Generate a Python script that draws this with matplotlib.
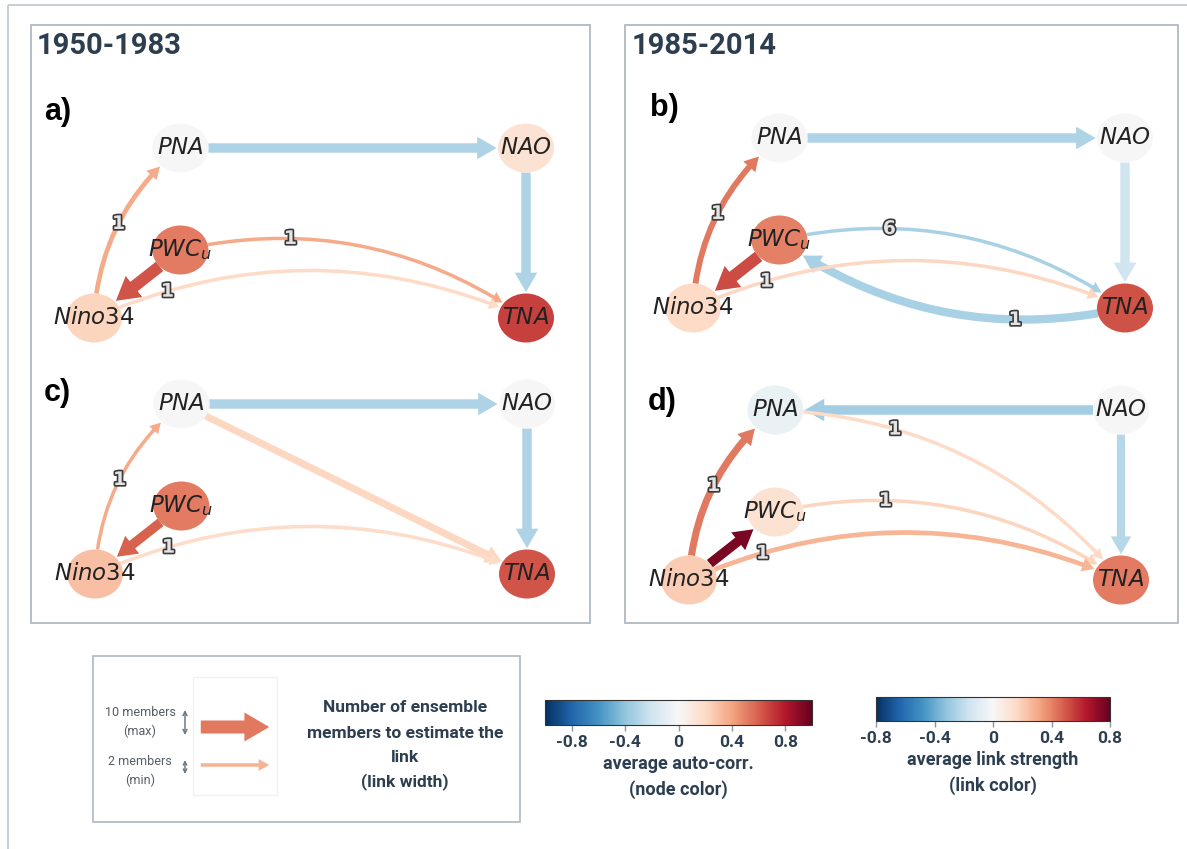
"""Causal networks of teleconnection indices, two periods, two settings each."""

import matplotlib

matplotlib.use("Agg")

import matplotlib.pyplot as plt
import numpy as np
from matplotlib import patheffects as pe
from matplotlib.cm import ScalarMappable
from matplotlib.colors import Normalize
from matplotlib.patches import ArrowStyle, Ellipse, FancyArrowPatch, Rectangle

plt.rcParams["font.family"] = ["Roboto", "DejaVu Sans"]

# ---- data -------------------------------------------------------------
NODES = ["Nino34", "PWCu", "PNA", "NAO", "TNA"]
NODE_TEX = {"Nino34": r"$Nino34$", "PWCu": r"$PWC_u$", "PNA": r"$PNA$",
            "NAO": r"$NAO$", "TNA": r"$TNA$"}

# average auto-correlation per node (order of NODES)
AUTOCORR_A = [0.22, 0.52, 0.0, 0.15, 0.68]
AUTOCORR_B = [0.20, 0.50, 0.0, 0.0, 0.64]
AUTOCORR_C = [0.30, 0.52, 0.0, 0.0, 0.63]
AUTOCORR_D = [0.25, 0.15, -0.07, 0.0, 0.52]

# links: source, target, average strength, ensemble members, lag (0 = contemporaneous)
A_SRC = ["PNA", "NAO", "Nino34", "PWCu", "PWCu", "Nino34"]
A_DST = ["NAO", "TNA", "PNA", "Nino34", "TNA", "TNA"]
A_VAL = [-0.25, -0.25, 0.30, 0.50, 0.30, 0.16]
A_MEM = [7, 7, 3, 9, 2, 2]
A_LAG = [0, 0, 1, 0, 1, 1]

B_SRC = ["PNA", "NAO", "Nino34", "PWCu", "PWCu", "TNA", "Nino34"]
B_DST = ["NAO", "TNA", "PNA", "Nino34", "TNA", "PWCu", "TNA"]
B_VAL = [-0.25, -0.16, 0.42, 0.52, -0.26, -0.26, 0.17]
B_MEM = [7, 7, 4, 9, 2, 6, 2]
B_LAG = [0, 0, 1, 0, 6, 1, 1]

C_SRC = ["PNA", "NAO", "Nino34", "PWCu", "PNA", "Nino34"]
C_DST = ["NAO", "TNA", "PNA", "Nino34", "TNA", "TNA"]
C_VAL = [-0.25, -0.25, 0.30, 0.47, 0.17, 0.15]
C_MEM = [7, 7, 2, 7, 5, 2]
C_LAG = [0, 0, 1, 0, 0, 1]

D_SRC = ["NAO", "NAO", "Nino34", "Nino34", "PNA", "PWCu", "Nino34"]
D_DST = ["PNA", "TNA", "PNA", "PWCu", "TNA", "TNA", "TNA"]
D_VAL = [-0.28, -0.23, 0.42, 0.76, 0.16, 0.18, 0.27]
D_MEM = [7, 6, 5, 7, 2, 2, 3]
D_LAG = [0, 0, 1, 0, 1, 1, 1]

# ---- layout / style ---------------------------------------------------
LAYOUT = {"Nino34": (0.0, 0.0), "PWCu": (0.2, 0.4), "PNA": (0.2, 1.0),
          "NAO": (1.0, 1.0), "TNA": (1.0, 0.0)}
LABEL_T = {("Nino34", "PNA"): 0.5, ("Nino34", "TNA"): 0.17}
W, H = 1187, 849
SX, SY = 432, 170
RAD = -0.22
DARK = "#2c3e50"
cmap = plt.get_cmap("RdBu_r")
node_norm = Normalize(-1, 1)
link_norm = Normalize(-0.8, 0.8)


def width_px(m):
    return 3.5 + (m - 2) * 1.19


def arrow_style(m):
    w = width_px(m) * 0.72
    return ArrowStyle.Simple(head_length=1.5 * w + 3.8, head_width=1.8 * w + 4.0,
                             tail_width=w)


fig = plt.figure(figsize=(W / 100, H / 100), dpi=100)
bg = fig.add_axes([0, 0, 1, 1])
bg.set_xlim(0, W)
bg.set_ylim(H, 0)
bg.axis("off")

# frames
bg.add_patch(Rectangle((8, 5), 1400, 1000, fill=False, ec="#c3cad2", lw=1.3))
bg.add_patch(Rectangle((31, 25), 559, 598, fill=False, ec="#aab3bd", lw=1.2))
bg.add_patch(Rectangle((625, 25), 553, 598, fill=False, ec="#aab3bd", lw=1.2))
bg.text(37, 46, "1950-1983", fontsize=21, fontweight="bold", color=DARK, va="center")
bg.text(632, 46, "1985-2014", fontsize=21, fontweight="bold", color=DARK, va="center")


def draw_panel(ox, oy, letter, lx, ly, auto, src, dst, val, mem, lag):
    x0, x1, y0, y1 = -0.3, 1.2, -0.35, 1.3
    left, right = ox + x0 * SX, ox + x1 * SX
    top, bottom = oy - y1 * SY, oy - y0 * SY
    ax = fig.add_axes([left / W, 1 - bottom / H, (right - left) / W, (bottom - top) / H])
    ax.set_xlim(x0, x1)
    ax.set_ylim(y0, y1)
    ax.axis("off")
    ax.patch.set_alpha(0)

    ells = {}
    for name, a in zip(NODES, auto):
        e = Ellipse(LAYOUT[name], 56 / SX, 49 / SY, color=cmap(node_norm(a)), lw=0, zorder=2)
        ax.add_patch(e)
        ells[name] = e
        ax.text(*LAYOUT[name], NODE_TEX[name], fontsize=16.5, color="#222222",
                ha="center", va="center", zorder=3)

    for s, d, v, m, lg in zip(src, dst, val, mem, lag):
        rad = RAD if lg else 0.0
        arr = FancyArrowPatch(LAYOUT[s], LAYOUT[d], arrowstyle=arrow_style(m),
                              connectionstyle=f"arc3,rad={rad}", patchA=ells[s],
                              patchB=ells[d], shrinkA=0, shrinkB=1,
                              color=cmap(link_norm(v)), lw=0, zorder=1)
        ax.add_patch(arr)
        if lg:
            pa = ax.transData.transform(LAYOUT[s])
            pb = ax.transData.transform(LAYOUT[d])
            dx, dy = pb - pa
            c = (pa + pb) / 2 + rad * np.array([dy, -dx])
            t = LABEL_T.get((s, d), 0.3)
            pt = (1 - t) ** 2 * pa + 2 * t * (1 - t) * c + t ** 2 * pb
            xy = ax.transData.inverted().transform(pt)
            ax.text(*xy, str(lg), fontsize=13.5, fontweight="bold", family="DejaVu Sans",
                    color="#e4e4e4", ha="center", va="center", zorder=4,
                    path_effects=[pe.withStroke(linewidth=2.4, foreground="#3a3a3a")])

    bg.text(lx, ly, letter, fontsize=22, fontweight="bold", family="Liberation Sans",
            color="black", va="center")


draw_panel(94, 318, "a)", 44, 112, AUTOCORR_A, A_SRC, A_DST, A_VAL, A_MEM, A_LAG)
draw_panel(693, 308, "b)", 650, 108, AUTOCORR_B, B_SRC, B_DST, B_VAL, B_MEM, B_LAG)
draw_panel(95, 574, "c)", 44, 393, AUTOCORR_C, C_SRC, C_DST, C_VAL, C_MEM, C_LAG)
draw_panel(689, 580, "d)", 648, 402, AUTOCORR_D, D_SRC, D_DST, D_VAL, D_MEM, D_LAG)

# ---- width legend -------------------------------------------------------
bg.add_patch(Rectangle((93, 656), 427, 166, fill=False, ec="#aeb6be", lw=1.2))
bg.add_patch(Rectangle((193, 677), 84, 118, fill=False, ec="#f1f1f1", lw=1))
bg.text(140, 722, "10 members\n(max)", fontsize=9, color="#555e66", ha="center",
        va="center", linespacing=1.5)
bg.text(140, 771, "2 members\n(min)", fontsize=9, color="#555e66", ha="center",
        va="center", linespacing=1.5)
bg.annotate("", (185, 710), (185, 735),
            arrowprops=dict(arrowstyle="<->", color="#6c7a88", lw=1.1, mutation_scale=7,
                            shrinkA=0, shrinkB=0))
bg.annotate("", (185, 760), (185, 774),
            arrowprops=dict(arrowstyle="<->", color="#6c7a88", lw=1.1, mutation_scale=6,
                            shrinkA=0, shrinkB=0))
bg.add_patch(FancyArrowPatch((198, 727), (272, 727), arrowstyle=arrow_style(10),
                             color=cmap(link_norm(0.42)), lw=0))
bg.add_patch(FancyArrowPatch((198, 765), (272, 765), arrowstyle=arrow_style(2),
                             color=cmap(link_norm(0.28)), lw=0))
for yy, line in zip([708, 733, 758, 782],
                    ["Number of ensemble", "members to estimate the", "link", "(link width)"]):
    bg.text(405, yy, line, fontsize=12.5, fontweight="bold", color=DARK,
            ha="center", va="center")


# ---- colorbars ----------------------------------------------------------
def colorbar(x0, x1, y0, y1, norm, label):
    cax = fig.add_axes([x0 / W, 1 - y1 / H, (x1 - x0) / W, (y1 - y0) / H])
    cb = fig.colorbar(ScalarMappable(norm=norm, cmap=cmap), cax=cax, orientation="horizontal")
    cb.set_ticks([-0.8, -0.4, 0, 0.4, 0.8])
    cb.set_ticklabels(["-0.8", "-0.4", "0", "0.4", "0.8"])
    cb.outline.set_linewidth(0.8)
    cb.outline.set_edgecolor("#333333")
    cax.tick_params(length=4, width=1, color="#8a959f", labelsize=12.5, labelcolor=DARK, pad=3)
    for t in cax.get_xticklabels():
        t.set_fontweight("bold")
    cb.set_label(label, fontsize=13, fontweight="bold", color=DARK, linespacing=1.5,
                 labelpad=4)


colorbar(545, 812, 700, 725, node_norm, "average auto-corr.\n(node color)")
colorbar(876, 1110, 697, 721, link_norm, "average link strength\n(link color)")

fig.savefig("out.png", dpi=100)
